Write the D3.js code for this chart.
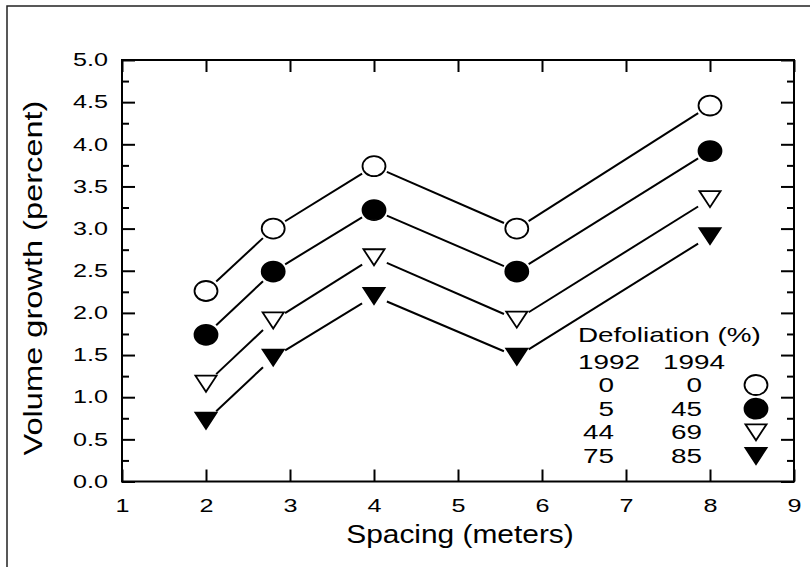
<!DOCTYPE html>
<html>
<head>
<meta charset="utf-8">
<script src="https://cdn.jsdelivr.net/npm/d3@7"></script>
<style>
    body { margin: 0; background: white; }
    text { font-family: "Liberation Sans", Arial, sans-serif; fill: #000; }
</style>
</head>
<body>
<div id="data-vis"></div>
<script>
//DATA
//Tree spacing (meters)
const spacing = [2, 2.8, 4, 5.7, 8];

//Volume growth (percent) per defoliation class
const growthNone = [2.26, 3.0, 3.74, 3.0, 4.46];
const growthLight = [1.74, 2.49, 3.22, 2.49, 3.92];
const growthModerate = [1.16, 1.91, 2.66, 1.92, 3.35];
const growthHeavy = [0.72, 1.47, 2.2, 1.48, 2.91];

//Legend rows
const defol1992 = ["0", "5", "44", "75"];
const defol1994 = ["0", "45", "69", "85"];
const markerKinds = ["openCircle", "filledCircle", "openTriangle", "filledTriangle"];

//Axis ticks
const xTicks = [1, 2, 3, 4, 5, 6, 7, 8, 9];
const yTicks = [0, 0.5, 1, 1.5, 2, 2.5, 3, 3.5, 4, 4.5, 5];
const yMinorTicks = [0.25, 0.75, 1.25, 1.75, 2.25, 2.75, 3.25, 3.75, 4.25, 4.75];

//SCRIPT PROPERTIES
const w = 810;
const h = 567;
const plot = {left: 122, right: 794, top: 60, bottom: 481.5};

//Glyphs in the source are wider than Liberation Sans
const tickStretch = 1.4;
const legendStretch = 1.36;

//Markers are a little wider than tall
const markerStretch = 1.15;

//Down pointing triangle centred on its bounding box
const triangleDown = {
    draw: function(context, size) {
        const k = Math.sqrt(size);
        const hw = k * 0.6;
        const hh = k * 0.525;
        context.moveTo(-hw, -hh);
        context.lineTo(hw, -hh);
        context.lineTo(0, hh);
        context.closePath();
    }
};

let svg = d3.select("#data-vis")
    .append("svg")
    .attr("width", w)
    .attr("height", h)
    .style("background-color", "white");

//Scales
let x = d3.scaleLinear().domain([1, 9]).range([plot.left, plot.right]);
let y = d3.scaleLinear().domain([0, 5]).range([plot.bottom, plot.top]);

//Outer frame of the figure (top and left edges only)
svg.append("path")
    .attr("d", `M7,${h} L7,6 L${w},6`)
    .attr("fill", "none")
    .attr("stroke", "#222")
    .attr("stroke-width", 1.5);

//Draw a marker of a given kind
function drawMarker(g, kind, cx, cy) {
    let isCircle = kind.indexOf("Circle") > -1;
    let filled = kind.indexOf("filled") === 0;
    g.append("path")
        .attr("d", d3.symbol().type(isCircle ? d3.symbolCircle : triangleDown).size(isCircle ? 314 : 234)())
        .attr("transform", `translate(${cx},${cy}) scale(${markerStretch},1)`)
        .attr("fill", filled ? "#000" : "#fff")
        .attr("stroke", "#000")
        .attr("stroke-width", 1.8)
        .attr("vector-effect", "non-scaling-stroke");
}

//Axes (ticks point inwards)
function styleAxis(g) {
    g.select(".domain").remove();
    g.selectAll("line").attr("stroke", "#000").attr("stroke-width", 2);
    g.selectAll("text")
        .style("font-size", "18px")
        .attr("fill", "#000");
}

//Bottom axis
svg.append("g")
    .attr("transform", `translate(0,${plot.bottom})`)
    .call(d3.axisBottom(x).tickValues(xTicks).tickFormat(d3.format("d")).tickSizeInner(-12).tickSizeOuter(0).tickPadding(18))
    .call(styleAxis)
    .call(g => g.selectAll("text").attr("transform", `scale(${tickStretch},1)`));

//Top axis
svg.append("g")
    .attr("transform", `translate(0,${plot.top})`)
    .call(d3.axisTop(x).tickValues(xTicks).tickFormat("").tickSizeInner(-12).tickSizeOuter(0))
    .call(styleAxis);

//Left axis
svg.append("g")
    .attr("transform", `translate(${plot.left},0)`)
    .call(d3.axisLeft(y).tickValues(yTicks).tickFormat(d3.format(".1f")).tickSizeInner(-13).tickSizeOuter(0).tickPadding(14))
    .call(styleAxis)
    .call(g => g.selectAll("text")
        .attr("x", -14 / tickStretch)
        .attr("transform", `scale(${tickStretch},1)`));

svg.append("g")
    .attr("transform", `translate(${plot.left},0)`)
    .call(d3.axisLeft(y).tickValues(yMinorTicks).tickFormat("").tickSizeInner(-7).tickSizeOuter(0))
    .call(styleAxis);

//Right axis
svg.append("g")
    .attr("transform", `translate(${plot.right},0)`)
    .call(d3.axisRight(y).tickValues(yTicks).tickFormat("").tickSizeInner(-13).tickSizeOuter(0))
    .call(styleAxis);

svg.append("g")
    .attr("transform", `translate(${plot.right},0)`)
    .call(d3.axisRight(y).tickValues(yMinorTicks).tickFormat("").tickSizeInner(-7).tickSizeOuter(0))
    .call(styleAxis);

//Plot frame
svg.append("rect")
    .attr("x", plot.left)
    .attr("y", plot.top)
    .attr("width", plot.right - plot.left)
    .attr("height", plot.bottom - plot.top)
    .attr("fill", "none")
    .attr("stroke", "#000")
    .attr("stroke-width", 2);

//Axis titles
svg.append("text")
    .attr("transform", `translate(${(plot.left + plot.right) / 2 + 2},543) scale(1.15,1)`)
    .attr("text-anchor", "middle")
    .style("font-size", "26px")
    .text("Spacing (meters)");

svg.append("text")
    .attr("transform", `translate(42,278) rotate(-90) scale(1.23,1)`)
    .attr("text-anchor", "middle")
    .style("font-size", "26.5px")
    .text("Volume growth (percent)");

//Series lines with a gap round each marker
const series = [growthNone, growthLight, growthModerate, growthHeavy];
const gap = 14;

let lines = svg.append("g").attr("class", "lines");
series.forEach(function(values) {
    let pts = spacing.map((s, i) => [x(s), y(values[i])]);
    d3.pairs(pts).forEach(function([a, b]) {
        let dx = b[0] - a[0];
        let dy = b[1] - a[1];
        let len = Math.sqrt(dx * dx + dy * dy);
        let ux = dx / len, uy = dy / len;
        lines.append("line")
            .attr("x1", a[0] + ux * gap)
            .attr("y1", a[1] + uy * gap)
            .attr("x2", b[0] - ux * gap)
            .attr("y2", b[1] - uy * gap)
            .attr("stroke", "#000")
            .attr("stroke-width", 2);
    });
});

//Series markers
let markers = svg.append("g").attr("class", "markers");
series.forEach(function(values, k) {
    spacing.forEach(function(s, i) {
        drawMarker(markers, markerKinds[k], x(s), y(values[i]));
    });
});

//Legend
let legend = svg.append("g").attr("class", "legend");

function legendText(tx, ty, anchor, str) {
    legend.append("text")
        .attr("transform", `translate(${tx},${ty}) scale(${legendStretch},1)`)
        .attr("text-anchor", anchor)
        .style("font-size", "20.5px")
        .text(str);
}

legendText(578, 342, "start", "Defoliation (%)");
legendText(578, 369, "start", "1992");
legendText(663, 369, "start", "1994");

const rowY = d3.scalePoint().domain(d3.range(defol1992.length)).range([392, 463]);
defol1992.forEach(function(v, i) {
    legendText(614, rowY(i), "end", v);
    legendText(702, rowY(i), "end", defol1994[i]);
    drawMarker(legend, markerKinds[i], 756, rowY(i) - 7);
});
</script>
</body>
</html>
